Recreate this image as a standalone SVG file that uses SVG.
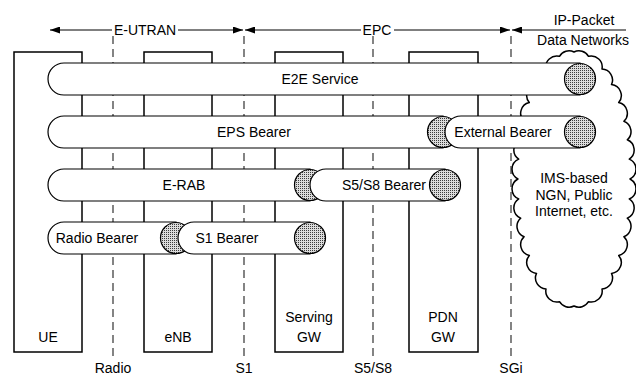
<svg xmlns="http://www.w3.org/2000/svg" width="636" height="377" viewBox="0 0 636 377">
<style>
text{font-family:"Liberation Sans",Arial,sans-serif;font-size:14px;fill:#000;text-anchor:middle}
.box{fill:#fff;stroke:#000;stroke-width:1.5}
.dash{stroke:#333;stroke-width:1.2;stroke-dasharray:8,5;fill:none}
.pipe{fill:#fff;stroke:#000;stroke-width:1.2}
.end{fill:url(#stip);stroke:#000;stroke-width:1.2}
.arr{stroke:#000;stroke-width:1;fill:none}
.cloud{fill:#fff;stroke:#000;stroke-width:1.5;stroke-linejoin:round}
</style>
<defs>
<pattern id="stip" width="2" height="2" patternUnits="userSpaceOnUse">
<rect width="2" height="2" fill="#dcdcdc"/>
<rect width="1" height="1" fill="#3c3c3c"/>
</pattern>
<marker id="ah" viewBox="0 0 10 7" refX="10" refY="3.5" markerWidth="10" markerHeight="7" markerUnits="userSpaceOnUse" orient="auto-start-reverse">
<path d="M0,0 L10,3.5 L0,7 z" fill="#000"/>
</marker>
</defs>
<rect width="636" height="377" fill="#fff"/>

<g id="domains">
<line class="arr" x1="50" y1="30" x2="243" y2="30" marker-start="url(#ah)" marker-end="url(#ah)"/>
<line class="arr" x1="245" y1="30" x2="510" y2="30" marker-start="url(#ah)" marker-end="url(#ah)"/>
<line class="arr" x1="512" y1="30" x2="626" y2="30" marker-start="url(#ah)"/>
<rect x="112" y="22" width="66" height="16" fill="#fff"/>
<rect x="361" y="22" width="33" height="16" fill="#fff"/>
<text x="145" y="35">E-UTRAN</text>
<text x="377" y="35">EPC</text>
<text x="584" y="25">IP-Packet</text>
<text x="583" y="45">Data Networks</text>
</g>

<g id="interfaces">
<line class="dash" x1="113" y1="36" x2="113" y2="361"/>
<line class="dash" x1="244" y1="36" x2="244" y2="361"/>
<line class="dash" x1="373" y1="36" x2="373" y2="361"/>
<line class="dash" x1="511" y1="36" x2="511" y2="361"/>
<text x="113" y="373">Radio</text>
<text x="244" y="373">S1</text>
<text x="373" y="373">S5/S8</text>
<text x="511" y="373">SGi</text>
</g>

<g id="UE"><rect class="box" x="14" y="52" width="68" height="300"/><text x="48" y="342">UE</text></g>
<g id="eNB"><rect class="box" x="144" y="52" width="68" height="300"/><text x="178" y="342">eNB</text></g>
<g id="ServingGW"><rect class="box" x="275" y="52" width="68" height="300"/><text x="309" y="322">Serving</text><text x="309" y="342">GW</text></g>
<g id="PDNGW"><rect class="box" x="409" y="52" width="69" height="300"/><text x="443" y="322">PDN</text><text x="443" y="342">GW</text></g>

<g id="cloud">
<path class="cloud" d="M574,52 A11,11 0 0 1 588.5,56.3 A11,11 0 0 1 602,69 A11,11 0 0 1 611.5,84.6 A11,11 0 0 1 618.7,102.6 A11,11 0 0 1 623.9,121.3 A11,11 0 0 1 627.3,139.8 A11,11 0 0 1 629.3,159.1 A11,11 0 0 1 630,179 A11,11 0 0 1 629.3,198.9 A11,11 0 0 1 627.3,218.2 A11,11 0 0 1 623.9,236.7 A11,11 0 0 1 618.7,255.4 A11,11 0 0 1 611.5,273.4 A11,11 0 0 1 602,289 A11,11 0 0 1 588.5,301.7 A11,11 0 0 1 574,306 A11,11 0 0 1 559.5,301.7 A11,11 0 0 1 546,289 A11,11 0 0 1 536.5,273.4 A11,11 0 0 1 529.3,255.4 A11,11 0 0 1 524.1,236.7 A11,11 0 0 1 520.7,218.2 A11,11 0 0 1 518.7,198.9 A11,11 0 0 1 518,179 A11,11 0 0 1 518.7,159.1 A11,11 0 0 1 520.7,139.8 A11,11 0 0 1 524.1,121.3 A11,11 0 0 1 529.3,102.6 A11,11 0 0 1 536.5,84.6 A11,11 0 0 1 546,69 A11,11 0 0 1 559.5,56.3 A11,11 0 0 1 574,52 Z"/>
<text x="574" y="183">IMS-based</text>
<text x="574" y="200">NGN, Public</text>
<text x="574" y="216">Internet, etc.</text>
</g>

<g id="bearers">
<g id="E2E">
<path class="pipe" d="M580,63 H64 A16,16 0 0 0 64,95 H580 Z"/>
<circle class="end" cx="580" cy="79" r="15.5"/>
<text x="320" y="84">E2E Service</text>
</g>
<g id="EPS">
<path class="pipe" d="M443,116 H64 A16,16 0 0 0 64,148 H443 Z"/>
<circle class="end" cx="443" cy="132" r="15.5"/>
<text x="254" y="137">EPS Bearer</text>
</g>
<g id="External">
<path class="pipe" d="M580,116 H461 A16,16 0 0 0 461,148 H580 Z"/>
<circle class="end" cx="580" cy="132" r="15.5"/>
<text x="503" y="137">External Bearer</text>
</g>
<g id="ERAB">
<path class="pipe" d="M310,169 H64 A16,16 0 0 0 64,201 H310 Z"/>
<circle class="end" cx="310" cy="185" r="15.5"/>
<text x="184" y="190">E-RAB</text>
</g>
<g id="S5S8">
<path class="pipe" d="M445,169 H326 A16,16 0 0 0 326,201 H445 Z"/>
<circle class="end" cx="445" cy="185" r="15.5"/>
<text x="384" y="190">S5/S8 Bearer</text>
</g>
<g id="RadioBearer">
<path class="pipe" d="M176,222 H64 A16,16 0 0 0 64,254 H176 Z"/>
<circle class="end" cx="176" cy="238" r="15.5"/>
<text x="97" y="243">Radio Bearer</text>
</g>
<g id="S1Bearer">
<path class="pipe" d="M310,222 H194 A16,16 0 0 0 194,254 H310 Z"/>
<circle class="end" cx="310" cy="238" r="15.5"/>
<text x="227" y="243">S1 Bearer</text>
</g>
</g>
</svg>
